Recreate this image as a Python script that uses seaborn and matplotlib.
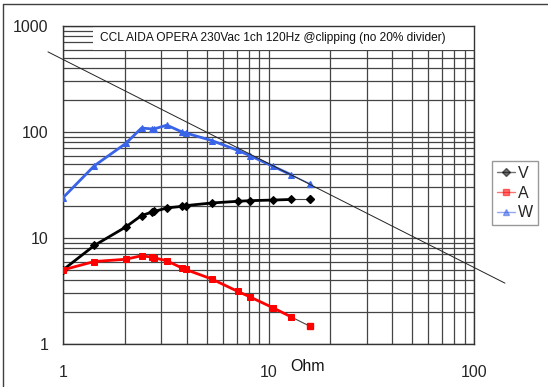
import matplotlib
matplotlib.use('Agg')
import matplotlib.pyplot as plt
import seaborn as sns
from matplotlib.patches import Rectangle
from matplotlib.lines import Line2D
from matplotlib.ticker import FixedLocator, NullFormatter

# measured points (load resistance in ohm)
ohm = [1.0, 1.42, 2.02, 2.41, 2.70, 2.78, 3.2, 3.8, 3.95, 5.3, 7.1, 8.1, 10.5, 12.9, 15.9]
volts = [5.0, 8.5, 12.7, 16.3, 17.5, 17.8, 19.2, 19.9, 20.2, 21.4, 22.2, 22.5, 22.8, 23.1, 23.1]
amps = [5.0, 6.0, 6.3, 6.8, 6.6, 6.5, 6.1, 5.2, 5.05, 4.1, 3.13, 2.79, 2.2, 1.8, 1.47]
watts = [24, 48, 78, 109, 107, 107, 116, 100, 98, 83, 67, 60, 47.5, 39.5, 32.5]

# constant power reference line
ref_x = [0.845, 141.5]
ref_y = [570, 3.75]

title = 'CCL AIDA OPERA 230Vac 1ch 120Hz @clipping (no 20% divider)'
series = [('V', volts, '#000000', 'D', 4), ('A', amps, '#ff0000', 's', 4.5), ('W', watts, '#3a64e8', '^', 5)]

sns.set_theme(style='white')
plt.rcParams['font.family'] = ['Liberation Sans', 'DejaVu Sans']

fig = plt.figure(figsize=(5.48, 3.87), dpi=100)
ax = fig.add_axes([63 / 548, 1 - 344 / 387, 411 / 548, 318 / 387])

ax.set_xscale('log')
ax.set_yscale('log')
ax.set_xlim(1, 100)
ax.set_ylim(1, 1000)

ax.grid(True, which='both', color='#444444', linewidth=0.9)
ax.set_axisbelow(True)
for s in ax.spines.values():
    s.set_color('#333333')
    s.set_linewidth(1.0)

ax.xaxis.set_major_locator(FixedLocator([1, 10, 100]))
ax.yaxis.set_major_locator(FixedLocator([1, 10, 100, 1000]))
ax.set_xticklabels(['1', '10', '100'])
ax.set_yticklabels(['1', '10', '100', '1000'])
ax.xaxis.set_minor_formatter(NullFormatter())
ax.yaxis.set_minor_formatter(NullFormatter())
ax.tick_params(which='major', direction='out', length=5, width=1, color='#333333', labelsize=11.5)
ax.tick_params(axis='x', which='major', pad=10)
ax.tick_params(axis='y', which='major', pad=5.5)
ax.tick_params(which='minor', length=0)

handles = []
for name, vals, col, mk, ms in series:
    sns.lineplot(x=ohm[:-1], y=vals[:-1], ax=ax, color=col, linewidth=2.0, marker=mk,
                 markersize=ms, markeredgecolor=col, sort=False, estimator=None, zorder=4)
    thin = col if name == 'W' else '#444444'
    sns.lineplot(x=ohm[-2:], y=vals[-2:], ax=ax, color=thin, linewidth=0.8, sort=False,
                 estimator=None, zorder=3)
    ax.plot(ohm[-1:], vals[-1:], linestyle='none', marker=mk, markersize=ms, color=col, zorder=4)
    handles.append(Line2D([], [], color=col, alpha=0.55, linewidth=1.0, marker=mk,
                          markersize=ms, markerfacecolor=col, markeredgecolor=col, label=name))

sns.lineplot(x=ref_x, y=ref_y, ax=ax, color='#222222', linewidth=0.7, sort=False,
             estimator=None, zorder=5)
for ln in ax.lines[-1:]:
    ln.set_clip_on(False)

# title box inside the plot area
ax.add_patch(Rectangle((0.073, 0.925), 0.927, 0.075, transform=ax.transAxes,
                       facecolor='white', edgecolor='none', zorder=2))
ax.text(0.511, 0.963, title, transform=ax.transAxes, ha='center', va='center',
        fontsize=8.6, color='#111111', zorder=6)

ax.text(0.594, -0.072, 'Ohm', transform=ax.transAxes, ha='center', va='center',
        fontsize=11.5, color='#111111')

leg = ax.legend(handles=handles, loc='upper left', bbox_to_anchor=(492 / 548, 1 - 161 / 387),
                bbox_transform=fig.transFigure, borderaxespad=0, frameon=True, fancybox=False,
                fontsize=11.5, handlelength=1.15, handletextpad=0.2, labelspacing=0.3,
                borderpad=0.3)
leg.get_frame().set_edgecolor('#808080')
leg.get_frame().set_linewidth(1.0)

# outer chart border (left and top visible)
fig.add_artist(Line2D([3 / 548, 3 / 548], [0, 1 - 4 / 387], transform=fig.transFigure,
                      color='#404040', linewidth=1.0))
fig.add_artist(Line2D([3 / 548, 1], [1 - 4 / 387, 1 - 4 / 387], transform=fig.transFigure,
                      color='#404040', linewidth=1.0))

fig.savefig('out.png', dpi=100)
